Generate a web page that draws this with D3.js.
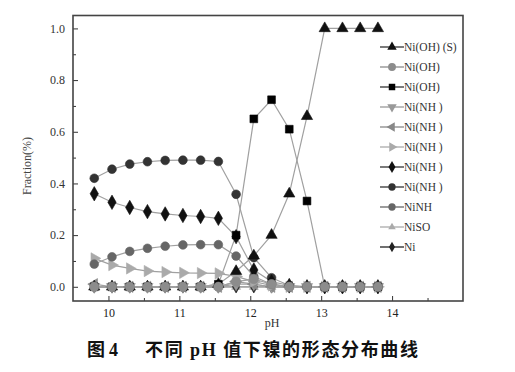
<!DOCTYPE html>
<html>
<head>
<meta charset="utf-8">
<script src="https://cdn.jsdelivr.net/npm/d3@7"></script>
<style>
  body { margin:0; background:#fff; }
  svg { display:block; font-family:"Liberation Serif","Times New Roman",serif; }
</style>
</head>
<body>
<div id="chart"></div>
<script>
const W = 515, H = 372;

// pH sample points
const pH = [9.8,10.05,10.3,10.55,10.8,11.05,11.3,11.55,11.8,12.05,12.3,12.55,12.8,13.05,13.3,13.55,13.8];

// fractions per species
const niOH2s   = [0,0,0,0,0,0,0,0.01,0.06,0.12,0.20,0.36,0.66,1.0,1.0,1.0,1.0];
const niOH2aq  = [0,0,0,0,0,0,0,0,0.02,0.03,0.01,0,0,0,0,0,0];
const niOH3    = [0,0,0,0,0,0,0,0.01,0.20,0.65,0.724,0.61,0.332,0,0,0,0];
const niNH3a   = [0,0,0,0,0,0,0,0,0.01,0.01,0,0,0,0,0,0,0];
const niNH3b   = [0.01,0,0,0,0,0,0,0,0.02,0.01,0,0,0,0,0,0,0];
const niNH3c   = [0.11,0.084,0.071,0.061,0.057,0.054,0.053,0.052,0.04,0.02,0.005,0,0,0,0,0,0];
const niNH3d   = [0.36,0.327,0.307,0.291,0.282,0.276,0.272,0.265,0.194,0.065,0.02,0.005,0,0,0,0,0];
const niNH3e   = [0.42,0.455,0.475,0.484,0.489,0.49,0.49,0.485,0.358,0.113,0.035,0.005,0,0,0,0,0];
const niNH     = [0.088,0.116,0.137,0.149,0.157,0.162,0.163,0.163,0.119,0.04,0.01,0,0,0,0,0,0];
const niSO4    = [0,0,0,0,0,0,0,0,0,0,0,0,0,0,0,0,0];
const niFree   = [0,0,0,0,0,0,0,0,0,0,0,0,0,0,0,0,0];

const names = ["Ni(OH) (S)","Ni(OH)","Ni(OH)","Ni(NH )","Ni(NH )","Ni(NH )","Ni(NH )","Ni(NH )","NiNH","NiSO","Ni"];
const values = [niOH2s,niOH2aq,niOH3,niNH3a,niNH3b,niNH3c,niNH3d,niNH3e,niNH,niSO4,niFree];

const xTicks = [10,11,12,13,14];
const yTicks = [0,0.2,0.4,0.6,0.8,1.0];

// marker style per series
const styles = [
  {sym:d3.symbolTriangle, rot:0,   fill:"#111", size:55},
  {sym:d3.symbolCircle,   rot:0,   fill:"#8c8c8c", size:70},
  {sym:d3.symbolSquare,   rot:0,   fill:"#000", size:60},
  {sym:d3.symbolTriangle, rot:180, fill:"#999", size:55},
  {sym:d3.symbolTriangle, rot:-90, fill:"#888", size:55},
  {sym:d3.symbolTriangle, rot:90,  fill:"#aaa", size:55},
  {sym:d3.symbolDiamond,  rot:0,   fill:"#111", size:60},
  {sym:d3.symbolCircle,   rot:0,   fill:"#333", size:60},
  {sym:d3.symbolCircle,   rot:0,   fill:"#666", size:60},
  {sym:d3.symbolTriangle, rot:0,   fill:"#aaa", size:35},
  {sym:d3.symbolDiamond,  rot:0,   fill:"#222", size:45}
];

const margin = {left:73, top:15.5, right:W-463, bottom:H-301};

const svg = d3.select("#chart").append("svg")
  .attr("width", W).attr("height", H);

const x = d3.scaleLinear().domain([9.5,15]).range([margin.left, W-margin.right]);
const y = d3.scaleLinear().domain([-0.055,1.05]).range([H-margin.bottom, margin.top]);

// lines
const line = d3.line().x((d,i)=>x(pH[i])).y(d=>y(d));
const drawOrder = [9,10,3,4,5,8,7,6,0,2,1];
const g = svg.append("g");
drawOrder.forEach(k=>{
  g.append("path")
    .attr("d", line(values[k]))
    .attr("fill","none")
    .attr("stroke","#a0a0a0")
    .attr("stroke-width",1.2);
});
drawOrder.forEach(k=>{
  const s = styles[k];
  const sym = d3.symbol().type(s.sym).size(s.size);
  g.selectAll(null)
    .data(values[k].map((v,i)=>[pH[i],v]))
    .join("path")
    .attr("d", sym)
    .attr("transform", d=>`translate(${x(d[0])},${y(d[1])}) rotate(${s.rot})`)
    .attr("fill", s.fill)
    .attr("stroke", s.fill)
    .attr("stroke-width", 0.6);
});

// axes
const xAxis = d3.axisBottom(x).tickValues(d3.range(10,15,0.5)).tickSizeInner(-5).tickSizeOuter(0)
  .tickFormat(d=>xTicks.includes(d)?d:"");
const gx = svg.append("g").attr("transform",`translate(0,${H-margin.bottom})`).call(xAxis);
gx.selectAll(".tick line").attr("y2", d=>Number.isInteger(d)?-5:-3).attr("stroke","#333");
gx.selectAll(".tick text").attr("dy","1.05em").attr("font-size",12).attr("fill","#222")
  .attr("font-family","Liberation Serif, serif");
gx.select(".domain").remove();

const yAxis = d3.axisLeft(y).tickValues(d3.range(0,1.01,0.1)).tickSizeInner(-5).tickSizeOuter(0)
  .tickFormat(d=>yTicks.some(t=>Math.abs(t-d)<1e-6)?d3.format(".1f")(d):"");
const gy = svg.append("g").attr("transform",`translate(${margin.left},0)`).call(yAxis);
gy.selectAll(".tick line").attr("x2", (d,i)=>i%2===0?5:3).attr("stroke","#333");
gy.selectAll(".tick text").attr("x",-8).attr("font-size",12).attr("fill","#333")
  .attr("font-family","Liberation Serif, serif");
gy.select(".domain").remove();

// frame
svg.append("rect")
  .attr("x", margin.left).attr("y", margin.top)
  .attr("width", W-margin.right-margin.left).attr("height", H-margin.bottom-margin.top)
  .attr("fill","none").attr("stroke","#444").attr("stroke-width",1.6);

// legend
const leg = svg.append("g");
names.forEach((n,k)=>{
  const ly = 47 + k*20;
  const s = styles[k];
  leg.append("line").attr("x1",380).attr("x2",404).attr("y1",ly).attr("y2",ly)
    .attr("stroke", s.fill==="#000"||s.fill==="#111"?"#333":s.fill).attr("stroke-width",1.3);
  leg.append("path").attr("d", d3.symbol().type(s.sym).size(s.size*0.7)())
    .attr("transform",`translate(392,${ly}) rotate(${s.rot})`)
    .attr("fill", s.fill);
  leg.append("text").attr("x",404).attr("y",ly).attr("dy","0.35em")
    .attr("font-size",11.5).attr("fill","#333").text(n);
});

// axis titles
svg.append("text").attr("transform","translate(31,166) rotate(-90)")
  .attr("text-anchor","middle").attr("font-size",12).attr("fill","#444").text("Fraction(%)");
svg.append("text").attr("x",272).attr("y",327).attr("text-anchor","middle")
  .attr("font-size",12).attr("fill","#333").text("pH");

// caption
const cap = svg.append("g").attr("font-weight","bold").attr("fill","#111");
cap.append("text").attr("x",87).attr("y",356).attr("font-size",18)
  .attr("font-family","Noto Sans CJK SC, sans-serif")
  .html('图 <tspan font-family="Liberation Serif, serif">4</tspan>');
cap.append("text").attr("x",145).attr("y",356).attr("font-size",18)
  .attr("font-family","Noto Sans CJK SC, sans-serif")
  .attr("textLength",273).attr("lengthAdjust","spacing")
  .html('不同 <tspan font-family="Liberation Serif, serif">pH</tspan> 值下镍的形态分布曲线');
</script>
</body>
</html>
